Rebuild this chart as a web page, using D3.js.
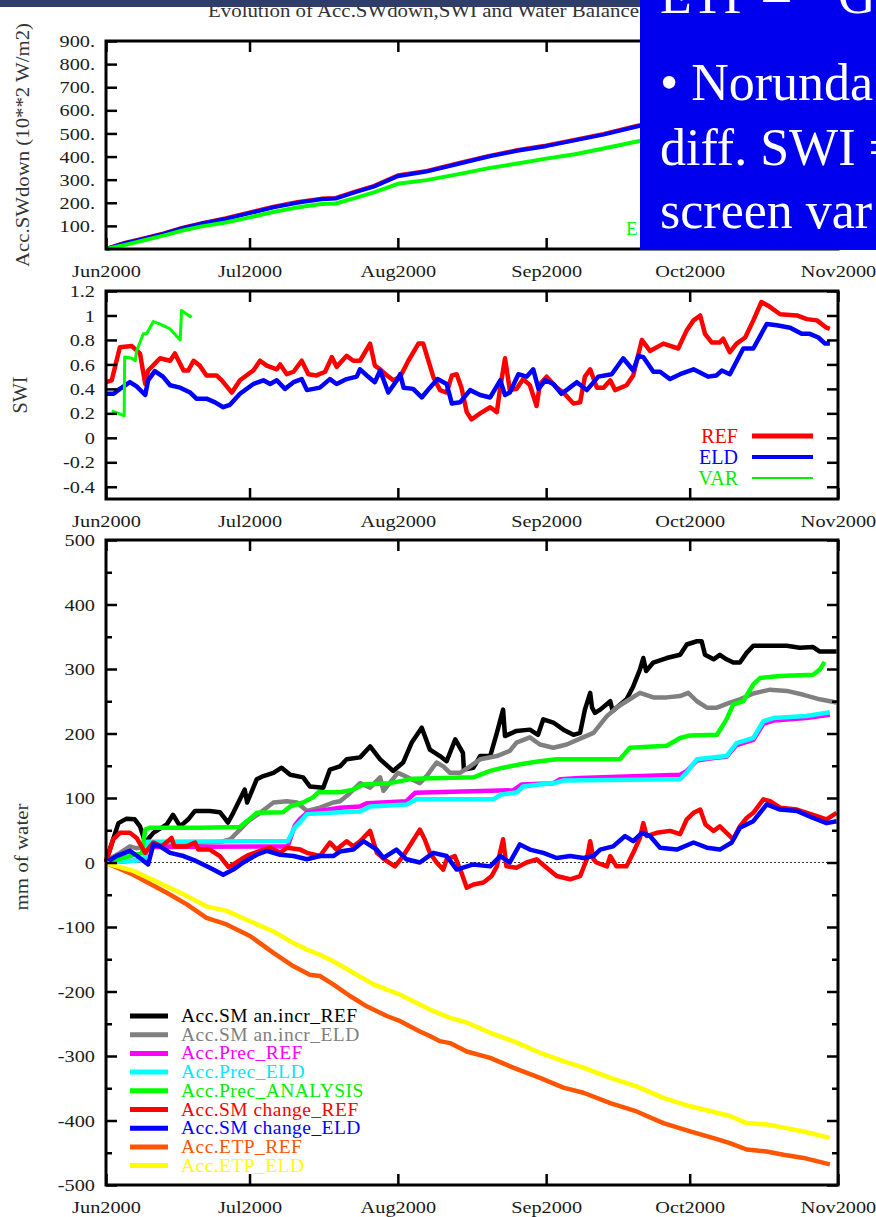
<!DOCTYPE html>
<html>
<head>
<meta charset="utf-8">
<script src="https://cdn.jsdelivr.net/npm/d3@7"></script>
<style>
  html, body { margin: 0; padding: 0; background: #fff; }
  svg { display: block; }
</style>
</head>
<body>
<svg id="chart" width="876" height="1217"></svg>
<script>
// ---- Data: [day since 1 Jun 2000, value] ----
// Accumulated SW down (10**2 W/m2)
const swdownRef = [[0,0],[4,27],[8,47],[12,67],[16,92],[20,112],[25,133],[30,158],[35,183],[40,203],[45,218],[48,221],[52,248],[56,273],[61,319],[67,338],[74,373],[80,403],[86,428],[92,448],[98,473],[104,498],[111,533],[118,563],[125,588],[132,608],[139,628],[146,643],[153,658]];
const swdownEld = [[0,0],[4,25],[8,45],[12,65],[16,90],[20,110],[25,130],[30,155],[35,180],[40,200],[45,215],[48,218],[52,245],[56,270],[61,315],[67,335],[74,370],[80,400],[86,425],[92,445],[98,470],[104,495],[111,530],[118,560],[125,585],[132,605],[139,625],[146,640],[153,655]];
const swdownVar = [[0,0],[4,18],[8,38],[12,58],[16,80],[20,98],[25,115],[30,137],[35,160],[40,180],[45,195],[48,197],[52,220],[56,245],[61,282],[67,298],[74,325],[80,350],[86,370],[92,391],[98,410],[104,435],[111,465],[118,490],[125,510],[132,530],[139,545],[146,560],[153,575]];

// Soil wetness index
const swiRef = [[0,0.455],[1.2,0.47],[2.9,0.74],[5.4,0.75],[7.1,0.69],[8.2,0.44],[8.8,0.55],[11.3,0.65],[13.4,0.63],[14.4,0.69],[16.2,0.55],[17.2,0.55],[18.3,0.63],[19.6,0.59],[21,0.51],[23.1,0.51],[24.2,0.47],[26.3,0.37],[28,0.47],[29.7,0.52],[30.8,0.55],[32.2,0.63],[33.6,0.59],[35.7,0.56],[36.4,0.60],[37.8,0.52],[39.2,0.54],[40.9,0.63],[42.3,0.52],[44,0.51],[45.8,0.54],[47.2,0.66],[48.2,0.58],[50.3,0.67],[51.7,0.63],[53.1,0.63],[55.2,0.77],[56.2,0.59],[57.3,0.56],[58.7,0.51],[60.1,0.47],[61.5,0.50],[63.2,0.63],[65.3,0.77],[66.3,0.77],[68.4,0.50],[69.8,0.39],[71.2,0.37],[72.3,0.51],[73.3,0.52],[74.3,0.41],[75.4,0.21],[76.4,0.15],[78.2,0.20],[80.3,0.25],[81.7,0.21],[82.4,0.41],[83.4,0.65],[84.4,0.39],[85.8,0.40],[87.2,0.48],[88.6,0.43],[90,0.26],[90.7,0.44],[92.1,0.50],[94.2,0.41],[95.6,0.37],[97.7,0.28],[99.1,0.29],[100.1,0.50],[101.2,0.56],[102.6,0.41],[104,0.41],[105.4,0.47],[106.4,0.39],[108.8,0.43],[110.2,0.51],[112,0.80],[113.7,0.71],[116.5,0.77],[119.6,0.73],[121.4,0.88],[122.8,0.96],[124.2,1.00],[125.2,0.85],[126.6,0.78],[128.3,0.78],[129,0.81],[130.4,0.70],[131.8,0.77],[133.6,0.82],[135.3,0.96],[137,1.11],[138.4,1.08],[140.9,1.01],[144.4,1.00],[146.5,0.97],[148.6,0.96],[150.6,0.90],[151.3,0.89]];
const swiEld = [[0,0.36],[1.6,0.36],[2.9,0.40],[5,0.455],[6.4,0.42],[8.2,0.35],[8.8,0.47],[10.2,0.545],[11.9,0.50],[13.4,0.43],[15.5,0.41],[17.6,0.37],[18.9,0.32],[21,0.32],[22.8,0.29],[24.5,0.25],[25.9,0.27],[28,0.36],[30.8,0.44],[32.9,0.47],[34.3,0.44],[35.7,0.47],[37.4,0.40],[39.2,0.455],[40.9,0.48],[42,0.39],[44.7,0.41],[46.8,0.48],[48.2,0.44],[50.3,0.48],[52.4,0.50],[53.1,0.56],[54.5,0.51],[56.2,0.455],[57.3,0.55],[59,0.37],[60.8,0.47],[61.5,0.52],[62.2,0.41],[64.2,0.40],[66,0.33],[67.7,0.41],[69.3,0.48],[71.2,0.44],[72.3,0.28],[74,0.29],[76.1,0.39],[78.2,0.35],[80.3,0.33],[82.4,0.47],[83.4,0.35],[84.4,0.37],[86.2,0.52],[87.9,0.50],[89.3,0.56],[90.4,0.40],[91.8,0.47],[93.5,0.44],[95.2,0.36],[96.6,0.40],[98.4,0.455],[100.5,0.39],[102.9,0.50],[105.7,0.52],[108.1,0.65],[110.2,0.55],[111.3,0.67],[112.3,0.66],[114.4,0.54],[115.8,0.54],[117.9,0.48],[120,0.52],[122.8,0.56],[125.9,0.50],[127.6,0.51],[128.7,0.55],[130.4,0.52],[133.2,0.73],[135.3,0.73],[138.1,0.93],[140.2,0.92],[143,0.90],[145.4,0.85],[147.1,0.85],[148.9,0.82],[150.3,0.77],[151.3,0.77]];
const swiVar = [[1.2,0.22],[2.6,0.20],[3.8,0.18],[3.9,0.66],[5.4,0.65],[6.1,0.63],[6.4,0.71],[7.8,0.85],[8.5,0.85],[9.9,0.95],[11.3,0.93],[13.4,0.89],[15.5,0.80],[15.8,1.04],[16.9,1.01],[17.6,0.99],[17.9,1.00]];

// Water balance terms (mm of water)
const smIncrRef = [[0,2],[1.5,36],[2.6,61],[4.3,68],[6,67],[7.1,56],[8.2,31],[9.9,46],[12.7,59],[14,74],[15.5,56],[17.2,67],[18.6,80],[21.7,80],[23.8,78],[25.5,62],[26.6,77],[29,113],[29.5,93],[31.5,129],[32.9,134],[35,139],[36.7,147],[38.5,136],[41.2,132],[42.6,118],[45.4,116],[46.8,144],[48.9,149],[50.3,160],[53.1,163],[55.2,180],[57.3,160],[60,142],[62.1,155],[63.9,186],[66,209],[67.7,175],[69.8,165],[71.2,157],[73,191],[74.6,170],[74.8,144],[76.8,147],[78.2,165],[80.3,165],[81.7,201],[83,237],[83.4,196],[85.8,204],[88.6,206],[90.3,198],[91.4,222],[93.5,217],[95.6,206],[97.7,198],[99.1,201],[100.1,237],[101.2,263],[101.6,240],[102.2,232],[103.3,237],[105.4,250],[105.9,235],[108.8,253],[110.2,273],[111.6,299],[112.3,317],[112.9,297],[114.4,310],[117.2,317],[120,322],[121.4,338],[123.5,343],[124.5,343],[125.2,322],[127,315],[128.3,322],[129.7,315],[131.1,310],[132.5,310],[133.9,325],[135.3,336],[138.1,336],[142.3,336],[145,333],[147.8,334],[149.2,327],[152.7,327]];
const smIncrEld = [[0,2],[2.9,15],[5,25],[6.4,22],[8.2,25],[12,28],[18,30],[24,32],[26,36],[28,51],[29.7,64],[32.2,77],[35,93],[37.8,95],[39.9,93],[42,80],[44.7,85],[47.5,93],[48.9,95],[50.3,103],[53.1,123],[55.2,116],[57.3,132],[58,111],[61,139],[62.5,134],[65.6,123],[67,134],[69.1,155],[70.5,149],[71.9,139],[74,139],[76.1,149],[78.2,160],[81.7,165],[84.4,173],[85.8,186],[88.6,194],[90.7,183],[93.5,178],[96.3,183],[99.1,192],[101.9,201],[104.7,227],[106.7,240],[108.8,250],[111.6,263],[114.4,256],[117.2,256],[120,258],[121.7,263],[123.5,250],[125.6,240],[127.7,240],[130.4,248],[132.5,253],[135.3,262],[138.8,268],[142.3,266],[145.8,260],[149.2,253],[152.7,248]];
const precRef = [[0,0],[4,2],[8,4],[8.6,24],[38,25],[39.5,58],[40.5,67],[42,77],[48.9,85],[53.1,87],[54.5,92],[62.8,95],[64.6,108],[85.1,112],[86.9,121],[93.5,123],[94.9,129],[99.1,131],[120,136],[121.4,142],[123.5,158],[127,162],[129.7,164],[131.8,182],[135.3,190],[137.4,215],[139.5,220],[146.4,224],[151.3,229]];
const precEld = [[0,0],[4,2],[8,4],[8.6,32],[38,33],[39.5,55],[40.5,62],[42,75],[48.9,78],[53.1,79],[55.2,87],[62.8,90],[64.9,98],[81,98],[82.4,105],[86,109],[87.2,118],[94.2,124],[95.6,127],[120,129],[121.4,140],[123.5,160],[129.7,165],[131.8,185],[135.3,193],[137.4,219],[139.5,224],[146.4,227],[151.3,233]];
const precAnalysis = [[0,0],[5,10],[7.5,15],[8.2,51],[9.2,54],[19.6,54],[28,55],[29.4,64],[30.8,72],[31.5,77],[37,78],[38.5,87],[41.2,93],[43.3,101],[44.4,109],[48.9,109],[51.7,113],[53.8,121],[59.4,123],[62.1,127],[64.2,130],[76.8,132],[80.3,142],[83,147],[87.2,153],[90.7,157],[94.2,160],[107.4,160],[109.5,178],[117.2,181],[120,193],[122.1,197],[127.7,198],[129.7,222],[131.1,245],[133.2,250],[135.3,276],[136.7,286],[140.9,289],[147.8,291],[149.2,299],[150.2,311]];
const smChangeRef = [[0,0],[1.5,36],[2.9,46],[5,46],[6.4,38],[8.2,15],[9.9,31],[11.6,25],[13.7,38],[14.3,25],[16.9,25],[18.6,31],[19.3,20],[21.7,20],[23.8,10],[25.6,-7],[26.6,-3],[28.7,7],[29.9,12],[32.2,18],[34.3,23],[36.4,15],[37.8,23],[40.6,20],[42,15],[44.7,10],[46.8,31],[48.2,20],[50.3,33],[51.7,25],[53.1,33],[55.2,49],[56.6,15],[58.7,2],[60.4,-6],[62.1,10],[63.9,31],[65.6,51],[66.6,36],[67.7,15],[69.1,0],[70.5,-11],[71.2,5],[72.9,10],[74.3,-16],[75.4,-39],[76.8,-34],[78.9,-31],[80.6,-21],[81.7,-6],[83,36],[83.7,-6],[85.8,-8],[87.9,0],[90,5],[92.1,-8],[94.2,-21],[97,-26],[99.1,-21],[100.5,5],[101.2,33],[101.9,5],[102.5,0],[104.7,-6],[105.4,10],[106.7,-6],[108.8,-6],[110.2,15],[111.6,38],[112.3,61],[113,41],[115.1,46],[117.9,49],[120,44],[121.4,67],[122.8,77],[124.2,82],[125.3,59],[127,49],[128.3,56],[129.7,46],[131.1,36],[132.5,56],[133.9,69],[135.3,77],[137.4,98],[138.8,95],[140.9,85],[144.4,82],[147.8,74],[150.6,67],[152.7,77]];
const smChangeEld = [[0,0],[2.2,10],[5,18],[7.1,7],[8.8,-3],[9.9,28],[11.3,25],[13.4,15],[16.2,10],[18.9,2],[21.7,-8],[24.5,-19],[26.6,-11],[28.7,0],[31.5,12],[33.6,18],[36.4,12],[39.2,10],[42,5],[44.7,10],[47.5,10],[48.9,17],[51.7,20],[53.8,33],[56.6,20],[58,7],[60.7,20],[62.8,5],[65.6,0],[68.4,15],[71.2,10],[73.3,-11],[76.8,-3],[80.3,-6],[82.4,10],[84.4,0],[86.5,28],[88.6,20],[91.4,15],[94.2,7],[97,10],[99.8,7],[101.9,10],[103.3,20],[106,25],[108.5,41],[110.2,33],[112,46],[113.7,41],[115.8,23],[119.3,20],[122.8,31],[125.6,23],[128.3,20],[130.8,31],[132.5,54],[135.3,64],[138.1,90],[140.9,82],[144.4,80],[147.8,69],[150.6,61],[152.7,64]];
const etpRef = [[0,0],[0.8,-3],[5.7,-19],[12.7,-47],[16.9,-65],[21,-86],[25.2,-96],[30.1,-114],[35,-140],[39.2,-161],[42.6,-174],[44.7,-176],[47.5,-189],[51,-207],[54.5,-223],[58.7,-238],[61.5,-246],[65.6,-262],[67.7,-269],[69.8,-277],[71.9,-280],[75.4,-293],[80.3,-303],[85.1,-318],[90.7,-334],[95.6,-349],[99.8,-357],[105.4,-373],[110.9,-386],[116.5,-404],[122.1,-417],[127.7,-429],[130.4,-435],[133.9,-445],[138.1,-448],[141.6,-453],[145.8,-458],[151.3,-468]];
const etpEld = [[0,0],[0.8,-3],[5.7,-13],[12.7,-37],[16.9,-52],[21,-68],[25.2,-75],[30.1,-91],[35,-107],[39.2,-125],[42,-135],[44.7,-143],[47.5,-153],[51.7,-171],[55.9,-189],[61.5,-205],[65.6,-220],[67.7,-228],[71.9,-241],[75.4,-248],[80.3,-264],[85.1,-277],[90.7,-295],[95.6,-308],[99.8,-318],[105.4,-334],[110.9,-347],[116.5,-365],[122.1,-378],[127.7,-388],[130.4,-393],[133.9,-404],[138.1,-406],[141.6,-411],[145.8,-417],[151.3,-427]];

// Tick values
const swdownTicks = [100, 200, 300, 400, 500, 600, 700, 800, 900];
const swiTicks = [-0.4, -0.2, 0, 0.2, 0.4, 0.6, 0.8, 1, 1.2];
const waterTicks = [-500, -400, -300, -200, -100, 0, 100, 200, 300, 400, 500];
const waterMinorTicks = [-450, -350, -250, -150, -50, 50, 150, 250, 350, 450];

// Legend entries
const swiLegend = [
  { label: "REF", color: "#ff0000", width: 5 },
  { label: "ELD", color: "#0000ff", width: 4 },
  { label: "VAR", color: "#00ee00", width: 2.2 }
];
const waterSeries = [
  { label: "Acc.SM an.incr_REF", data: smIncrRef, color: "#000000", text: "#000000" },
  { label: "Acc.SM an.incr_ELD", data: smIncrEld, color: "#808080", text: "#808080" },
  { label: "Acc.Prec_REF", data: precRef, color: "#ff00ff", text: "#ff00ff" },
  { label: "Acc.Prec_ELD", data: precEld, color: "#00ffff", text: "#00e8ff" },
  { label: "Acc.Prec_ANALYSIS", data: precAnalysis, color: "#00ff00", text: "#00ee00" },
  { label: "Acc.SM change_REF", data: smChangeRef, color: "#ff0000", text: "#ff0000" },
  { label: "Acc.SM change_ELD", data: smChangeEld, color: "#0000ff", text: "#0000ff" },
  { label: "Acc.ETP_REF", data: etpRef, color: "#ff5500", text: "#ff5500" },
  { label: "Acc.ETP_ELD", data: etpEld, color: "#ffff00", text: "#ffff00" }
];

// ---- Scales ----
const START = Date.UTC(2000, 5, 1);
const toDate = d => new Date(START + d * 864e5);
const X0 = 106, X1 = 838;
const x = d3.scaleUtc().domain([new Date(START), new Date(Date.UTC(2000, 10, 1))]).range([X0, X1]);
const months = d3.utcMonth.range(new Date(START), new Date(Date.UTC(2000, 10, 2)));
const monthFmt = d3.utcFormat("%b%Y");

const P1 = { top: 41, bottom: 249 };
const P2 = { top: 291, bottom: 499 };
const P3 = { top: 540, bottom: 1185 };
const ySw = d3.scaleLinear().domain([0, 900]).range([P1.bottom, P1.top]);
const ySwi = d3.scaleLinear().domain([-0.5, 1.2]).range([P2.bottom, P2.top]);
const yWater = d3.scaleLinear().domain([-500, 500]).range([P3.bottom, P3.top]);

const SERIF = "'Liberation Serif', 'DejaVu Serif', serif";
const svg = d3.select("#chart");

// widen glyphs horizontally without moving their anchor
function stretch(sel, k) {
  sel.each(function () {
    const t = d3.select(this);
    const xx = +(t.attr("x") || 0);
    t.attr("x", xx / k).attr("transform", `scale(${k},1)`);
  });
}

function drawLine(data, yScale, color, width) {
  svg.append("path")
    .datum(data)
    .attr("fill", "none")
    .attr("stroke", color)
    .attr("stroke-width", width)
    .attr("stroke-linejoin", "round")
    .attr("stroke-linecap", "butt")
    .attr("d", d3.line().x(d => x(toDate(d[0]))).y(d => yScale(d[1])));
}

function frame(p, yScale, ticks, fmt, minor) {
  const g = svg.append("g");
  g.append("g").attr("transform", `translate(0,${p.bottom})`)
    .call(d3.axisBottom(x).tickValues(months).tickFormat(monthFmt).tickSizeInner(-11).tickSizeOuter(0).tickPadding(15.5));
  g.append("g").attr("transform", `translate(0,${p.top})`)
    .call(d3.axisTop(x).tickValues(months).tickFormat("").tickSizeInner(-11).tickSizeOuter(0));
  g.append("g").attr("transform", `translate(${X0},0)`)
    .call(d3.axisLeft(yScale).tickValues(ticks).tickFormat(fmt).tickSizeInner(-11).tickSizeOuter(0).tickPadding(11));
  g.append("g").attr("transform", `translate(${X1},0)`)
    .call(d3.axisRight(yScale).tickValues(ticks).tickFormat("").tickSizeInner(-11).tickSizeOuter(0));
  if (minor) {
    g.append("g").attr("transform", `translate(${X0},0)`)
      .call(d3.axisLeft(yScale).tickValues(minor).tickFormat("").tickSizeInner(-6).tickSizeOuter(0));
    g.append("g").attr("transform", `translate(${X1},0)`)
      .call(d3.axisRight(yScale).tickValues(minor).tickFormat("").tickSizeInner(-6).tickSizeOuter(0));
  }
  g.selectAll(".domain").remove();
  g.selectAll(".tick line").attr("stroke", "#000").attr("stroke-width", 2.5);
  g.selectAll(".tick text")
    .attr("font-family", SERIF).attr("font-size", 17.5).attr("fill", "#1a1a1a")
    .call(stretch, 1.16);
  g.append("rect")
    .attr("x", X0).attr("y", p.top)
    .attr("width", X1 - X0).attr("height", p.bottom - p.top)
    .attr("fill", "none").attr("stroke", "#000").attr("stroke-width", 3);
}

function yLabel(text, cx, cy, size, len) {
  svg.append("text")
    .attr("transform", `translate(${cx},${cy}) rotate(-90)`)
    .attr("text-anchor", "middle")
    .attr("font-family", SERIF).attr("font-size", size).attr("fill", "#333")
    .attr("textLength", len).attr("lengthAdjust", "spacingAndGlyphs")
    .text(text);
}

// ---- Title ----
svg.append("text")
  .attr("x", 208).attr("y", 17)
  .attr("font-family", SERIF).attr("font-size", 19).attr("fill", "#333")
  .attr("textLength", 431).attr("lengthAdjust", "spacingAndGlyphs")
  .text("Evolution of Acc.SWdown,SWI and Water Balance");

// ---- Panel 1: accumulated SW down ----
drawLine(swdownRef, ySw, "#ff0000", 4);
drawLine(swdownEld, ySw, "#0000ff", 4);
drawLine(swdownVar, ySw, "#00ff00", 4);
svg.append("text").attr("x", 626).attr("y", 235)
  .attr("font-family", SERIF).attr("font-size", 19).attr("fill", "#00ff00").text("E");
frame(P1, ySw, swdownTicks, d => d + ".", null);
yLabel("Acc.SWdown (10**2 W/m2)", 28.5, 145, 19, 244);

// ---- Panel 2: SWI ----
drawLine(swiRef, ySwi, "#ff0000", 4.5);
drawLine(swiEld, ySwi, "#0000ff", 4.5);
drawLine(swiVar, ySwi, "#00ff00", 3);
const lg2 = svg.append("g");
swiLegend.forEach((e, i) => {
  const ly = 436 + i * 21;
  lg2.append("text").attr("x", 738).attr("y", ly + 7)
    .attr("text-anchor", "end")
    .attr("font-family", SERIF).attr("font-size", 20).attr("fill", e.color)
    .text(e.label);
  lg2.append("line").attr("x1", 752).attr("x2", 813).attr("y1", ly).attr("y2", ly)
    .attr("stroke", e.color).attr("stroke-width", e.width);
});
frame(P2, ySwi, swiTicks, d => String(d), null);
yLabel("SWI", 26.7, 395, 20, 37);

// ---- Panel 3: water balance ----
svg.append("line")
  .attr("x1", X0).attr("x2", X1).attr("y1", yWater(0)).attr("y2", yWater(0))
  .attr("stroke", "#333").attr("stroke-width", 1.2).attr("stroke-dasharray", "2,2");
waterSeries.forEach(s => drawLine(s.data, yWater, s.color, 4.5));
const lg3 = svg.append("g");
waterSeries.forEach((s, i) => {
  const ly = 1016 + i * 18.7;
  lg3.append("line").attr("x1", 130).attr("x2", 168).attr("y1", ly).attr("y2", ly)
    .attr("stroke", s.color).attr("stroke-width", 5);
  lg3.append("text").attr("x", 181).attr("y", ly + 6)
    .attr("font-family", SERIF).attr("font-size", 19.5).attr("fill", s.text)
    .attr("letter-spacing", 0.45)
    .text(s.label);
});
frame(P3, yWater, waterTicks, d => String(d), waterMinorTicks);
yLabel("mm of water", 28, 857, 19, 107);

// ---- Header band and text box ----
svg.append("rect").attr("x", 0).attr("y", 0).attr("width", 876).attr("height", 7).attr("fill", "#2f3d69");
svg.append("rect").attr("x", 640).attr("y", 0).attr("width", 236).attr("height", 250).attr("fill", "#0000ee");
const boxLines = [
  { text: "ETP –", extra: "G", y: 13 },
  { text: "• Norunda", y: 100 },
  { text: "diff. SWI =", y: 165 },
  { text: "screen var", y: 228 }
];
const boxText = svg.append("g").selectAll("text").data(boxLines).join("text")
  .attr("x", 660).attr("y", d => d.y)
  .attr("font-family", SERIF).attr("font-size", 52).attr("fill", "#fff")
  .text(d => d.text);
boxText.filter(d => d.extra).append("tspan").attr("x", 838).text(d => d.extra);
</script>
</body>
</html>
